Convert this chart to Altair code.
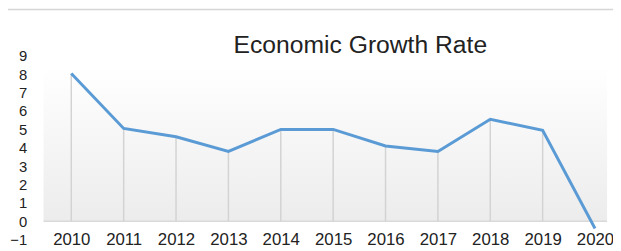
import altair as alt
import pandas as pd

years = [2010, 2011, 2012, 2013, 2014, 2015, 2016, 2017, 2018, 2019, 2020]
growth = [8.05, 5.05, 4.6, 3.8, 5.0, 5.0, 4.1, 3.8, 5.55, 4.95, -0.4]
y_ticks = [-1, 0, 1, 2, 3, 4, 5, 6, 7, 8, 9]
title_text = "Economic Growth Rate"

df = pd.DataFrame({"year": years, "rate": growth})
one = pd.DataFrame({"k": [0], "title": [title_text]})

FONT = "Liberation Sans"

xscale = alt.Scale(domain=[2009.47, 2020.23], nice=False, zero=False)
yscale = alt.Scale(domain=[-1, 9], nice=False, zero=False)

xaxis = alt.Axis(
    values=years, format="d", labelBaseline="middle", labelPadding=0,
    tickSize=0, domain=False, grid=False, labelFont=FONT, title=None,
    labelFontSize=17, labelColor="#222222", labelFlush=False,
    labelOverlap=False,
)
yaxis = alt.Axis(
    values=y_ticks, tickSize=0, domain=False, grid=False, title=None,
    labelPadding=17, labelFont=FONT, labelFontSize=15,
    labelColor="#222222", labelFlush=False, labelOverlap=False,
)

base = alt.Chart(df)

bg = alt.Chart(one).transform_calculate(t="8.4", b="0").mark_rect(
    color=alt.Gradient(
        gradient="linear",
        stops=[alt.GradientStop(color="#ffffff", offset=0),
               alt.GradientStop(color="#ececec", offset=1)],
        x1=0, x2=0, y1=0, y2=1,
    )
).encode(
    x=alt.value(0), x2=alt.value(571),
    y=alt.Y("t:Q", scale=yscale, axis=yaxis),
    y2="b:Q",
)

topline = alt.Chart(one).mark_rule(color="#d6d6d6", strokeWidth=1.5).encode(
    x=alt.value(-36), x2=alt.value(577), y=alt.value(-47)
)

title = alt.Chart(one).mark_text(
    font=FONT, fontSize=25, color="#222222", align="center", baseline="alphabetic"
).encode(
    text="title:N", x=alt.value(321), y=alt.value(-3)
)

zero = alt.Chart(one).transform_calculate(z="0").mark_rule(
    color="#d9d9d9", strokeWidth=1.5
).encode(
    x=alt.value(0), x2=alt.value(571),
    y=alt.Y("z:Q", scale=yscale, axis=yaxis),
)

drops = base.transform_calculate(top="max(datum.rate, 0)", z="0").mark_rule(
    color="#d3d3d3", strokeWidth=1.5
).encode(
    x=alt.X("year:Q", scale=xscale, axis=xaxis),
    y=alt.Y("z:Q", scale=yscale, axis=yaxis),
    y2="top:Q",
)

line = base.mark_line(color="#5b9bd5", strokeWidth=3).encode(
    x=alt.X("year:Q", scale=xscale, axis=xaxis),
    y=alt.Y("rate:Q", scale=yscale, axis=yaxis),
)

chart = alt.layer(bg, topline, title, zero, drops, line).properties(
    width=571,
    height=186,
    autosize=alt.AutoSizeParams(type="none"),
    padding={"left": 36, "top": 47, "right": 6, "bottom": 10},
).configure_view(stroke=None)

chart.save("out.html", embed_options={"renderer": "svg", "actions": False})
